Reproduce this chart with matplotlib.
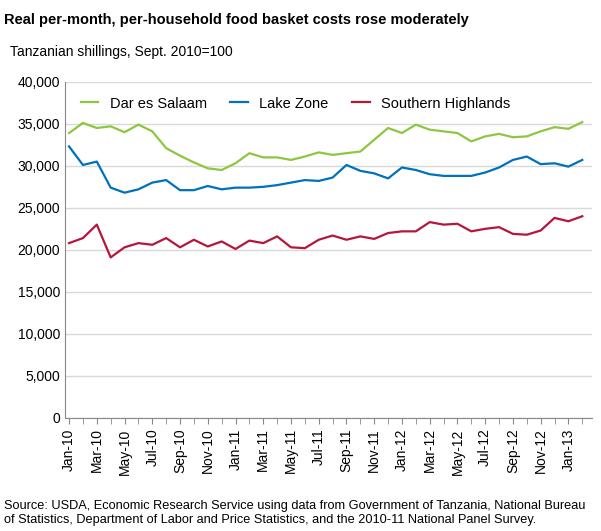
import matplotlib
matplotlib.use("Agg")
import matplotlib.pyplot as plt
import pandas as pd

plt.rcParams['font.family'] = ['Liberation Sans', 'DejaVu Sans']

months = pd.date_range("2010-01-01", "2013-02-01", freq="MS")
dar = [33900,35100,34500,34700,34000,34900,34100,32100,31200,30400,29700,29500,30300,31500,31000,31000,30700,31100,31600,31300,31500,31700,33100,34500,33900,34900,34300,34100,33900,32900,33500,33800,33400,33500,34100,34600,34400,35200]
lake = [32300,30100,30500,27400,26800,27200,28000,28300,27100,27100,27600,27200,27400,27400,27500,27700,28000,28300,28200,28600,30100,29400,29100,28500,29800,29500,29000,28800,28800,28800,29200,29800,30700,31100,30200,30300,29900,30700]
south = [20800,21400,23000,19100,20300,20800,20600,21400,20300,21200,20400,21000,20100,21100,20800,21600,20300,20200,21200,21700,21200,21600,21300,22000,22200,22200,23300,23000,23100,22200,22500,22700,21900,21800,22300,23800,23400,24000]
labels = [d.strftime("%b-%y") for d in months]

fig = plt.figure(figsize=(6.01,5.31), dpi=100)
ax = fig.add_axes([0.108, 0.213, 0.877, 0.633])
x = list(range(len(months)))
ax.plot(x, dar, color="#8dc63f", lw=1.6, label="Dar es Salaam")
ax.plot(x, lake, color="#0071bc", lw=1.6, label="Lake Zone")
ax.plot(x, south, color="#b5173b", lw=1.6, label="Southern Highlands")
ax.set_ylim(0, 40000)
ax.set_xlim(-0.3, len(x)-0.3)
ax.set_yticks(range(0, 40001, 5000))
ax.set_yticklabels([f"{v:,}" for v in range(0, 40001, 5000)], fontsize=10)
ax.set_xticks(x[::2])
ax.set_xticklabels(labels[::2], rotation=90, fontsize=10)
ax.set_xticks(x, minor=True)
ax.grid(axis="y", color="#d9d9d9", lw=1)
ax.set_axisbelow(True)
for s in ["top", "right"]:
    ax.spines[s].set_visible(False)
ax.spines["left"].set_color("#888888")
ax.spines["bottom"].set_color("#888888")
ax.tick_params(axis="y", length=0)
ax.tick_params(axis="x", which="both", length=4, color="#888888")
ax.legend(loc="upper left", ncol=3, frameon=False, fontsize=10.5, handlelength=1.2,
          columnspacing=1.6, bbox_to_anchor=(0.005, 0.995))
fig.text(0.007, 0.975, "Real per-month, per-household food basket costs rose moderately",
         fontsize=10.5, fontweight="bold", va="top")
fig.text(0.017, 0.915, "Tanzanian shillings, Sept. 2010=100", fontsize=10, va="top")
fig.text(0.007, 0.058, "Source: USDA, Economic Research Service using data from Government of Tanzania, National Bureau\nof Statistics, Department of Labor and Price Statistics, and the 2010-11 National Panel Survey.",
         fontsize=9.2, va="top", linespacing=1.25)
fig.savefig("out.png", dpi=100)
